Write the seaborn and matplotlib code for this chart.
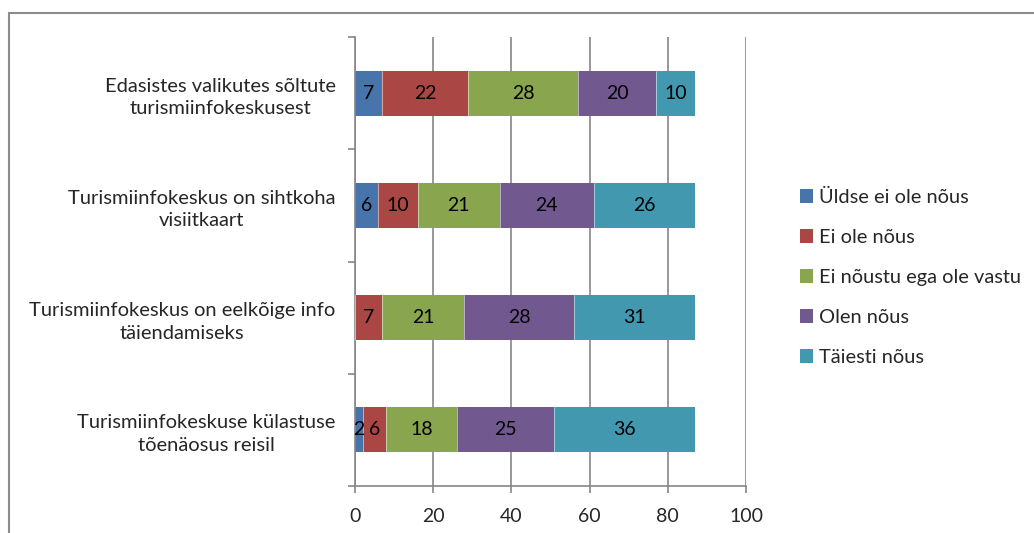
import matplotlib
matplotlib.use("Agg")
import matplotlib.pyplot as plt
import seaborn as sns
import pandas as pd
import numpy as np
from matplotlib.patches import Patch
from matplotlib.lines import Line2D

categories = [
    "Edasistes valikutes sõltute\nturismiinfokeskusest",
    "Turismiinfokeskus on sihtkoha\nvisiitkaart",
    "Turismiinfokeskus on eelkõige info\ntäiendamiseks",
    "Turismiinfokeskuse külastuse\ntõenäosus reisil",
]
series_names = ["Üldse ei ole nõus", "Ei ole nõus", "Ei nõustu ega ole vastu",
                "Olen nõus", "Täiesti nõus"]
s_yldse = [7, 6, 0, 2]
s_ei_ole = [22, 10, 7, 6]
s_neutraalne = [28, 21, 21, 18]
s_olen = [20, 24, 28, 25]
s_taiesti = [10, 26, 31, 36]
x_ticks = [0, 20, 40, 60, 80, 100]

colors = ["#4674AB", "#AA4643", "#89A54E", "#71588F", "#4198AF"]

series = [s_yldse, s_ei_ole, s_neutraalne, s_olen, s_taiesti]

sns.set_theme(style="white")
FONT = ["Lato", "DejaVu Sans"]
plt.rcParams["font.family"] = FONT
FS_CAT = 14.5
FS_LEG = 14.4
FS_NUM = 14

fig = plt.figure(figsize=(10.34, 5.33), dpi=100)
ax = fig.add_axes([355 / 1034, 1 - 486 / 533, (746 - 355) / 1034, (486 - 37) / 533])

cum = np.cumsum(np.array(series), axis=0)
# draw cumulative totals from largest to smallest so each visible part is a segment
for i in range(len(series) - 1, -1, -1):
    df = pd.DataFrame({"cat": categories, "val": cum[i]})
    sns.barplot(data=df, x="val", y="cat", orient="h", color=colors[i],
                width=0.4, saturation=1, ax=ax, edgecolor="none", linewidth=0,
                errorbar=None)

# thin separators and labels
starts = np.vstack([np.zeros(len(categories)), cum[:-1]])
for i, vals in enumerate(series):
    for j, v in enumerate(vals):
        if v > 0:
            ax.text(starts[i][j] + v / 2, j, str(v), ha="center", va="center",
                    fontsize=FS_NUM, color="black", zorder=5)
            if i > 0:
                ax.plot([starts[i][j], starts[i][j]], [j - 0.2, j + 0.2],
                        color="white", lw=0.6, alpha=0.6, zorder=4)

ax.set_xlim(0, 100)
ax.set_ylim(3.5, -0.5)
ax.set_xticks(x_ticks)
ax.set_xticklabels([str(t) for t in x_ticks], fontsize=FS_NUM)
ax.set_yticks(range(len(categories)))
ax.set_yticklabels(categories, fontsize=FS_CAT, ha="right", multialignment="center",
                   linespacing=1.4)
ax.set_yticks([-0.5, 0.5, 1.5, 2.5, 3.5], minor=True)
ax.tick_params(axis="y", which="major", length=0, pad=14)
ax.tick_params(axis="y", which="minor", length=5, width=1.2, color="#868686",
               direction="out", left=True)
ax.tick_params(axis="x", which="major", length=5, width=1.2, color="#868686",
               direction="out", bottom=True, pad=11)
ax.set_xlabel("")
ax.set_ylabel("")

ax.grid(axis="x", color="#868686", lw=1.2)
ax.set_axisbelow(True)
for side in ["top", "right"]:
    ax.spines[side].set_visible(False)
for side in ["left", "bottom"]:
    ax.spines[side].set_color("#868686")
    ax.spines[side].set_linewidth(1.2)

handles = [Patch(facecolor=c, edgecolor="none") for c in colors]
fig.legend(handles, series_names, loc="upper left",
           bbox_to_anchor=(782 / 1034, 1 - 171 / 533), frameon=False,
           fontsize=FS_LEG, handlelength=0.65, handleheight=0.65,
           handletextpad=0.3, labelspacing=1.15)

# outer chart frame
fig.add_artist(Line2D([8.5 / 1034, 1.0], [1 - 13 / 533, 1 - 13 / 533],
                      transform=fig.transFigure, color="#8C8C8C", lw=1.5))
fig.add_artist(Line2D([8.5 / 1034, 8.5 / 1034], [0, 1 - 13 / 533],
                      transform=fig.transFigure, color="#8C8C8C", lw=1.5))

fig.savefig("out.png", dpi=100)
